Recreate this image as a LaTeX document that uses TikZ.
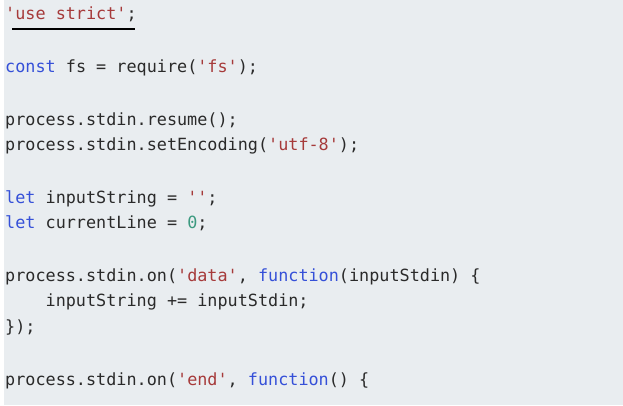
\documentclass[tikz,border=0pt]{standalone}
\usepackage{fontspec}
\setmonofont{DejaVu Sans Mono}
\definecolor{bg}{HTML}{E9EDF0}
\definecolor{kw}{HTML}{3550D8}
\definecolor{st}{HTML}{A63A3A}
\definecolor{nm}{HTML}{3C9A80}
\definecolor{tx}{HTML}{2A2A2A}
\newcommand{\K}[1]{\textcolor{kw}{#1}}
\newcommand{\Sg}[1]{\textcolor{st}{#1}}
\begin{document}
\begin{tikzpicture}[x=1pt,y=-1pt,
  codeline/.style={anchor=base west,inner sep=0pt,font=\ttfamily\fontsize{16.8}{18}\selectfont,text=tx}]
\useasboundingbox (0,0) rectangle (623,405);
\fill[bg] (4,0) rectangle (623,405);
\node[codeline] (l1) at (5,19) {\Sg{'use strict'};};
\draw[line width=2.2pt] (12,29) -- (135,29);
\node[codeline] (l2) at (5,72) {\K{const} fs = require(\Sg{'fs'});};
\node[codeline] (l3) at (5,125) {process.stdin.resume();};
\node[codeline] (l4) at (5,150) {process.stdin.setEncoding(\Sg{'utf-8'});};
\node[codeline] (l5) at (5,203) {\K{let} inputString = \Sg{''};};
\node[codeline] (l6) at (5,228) {\K{let} currentLine = \textcolor{nm}{0};};
\node[codeline] (l7) at (5,281) {process.stdin.on(\Sg{'data'}, \K{function}(inputStdin) \{};
\node[codeline] (l8) at (5,306) {\ \ \ \ inputString += inputStdin;};
\node[codeline] (l9) at (5,332) {\});};
\node[codeline] (l10) at (5,385) {process.stdin.on(\Sg{'end'}, \K{function}() \{};
\end{tikzpicture}
\end{document}
